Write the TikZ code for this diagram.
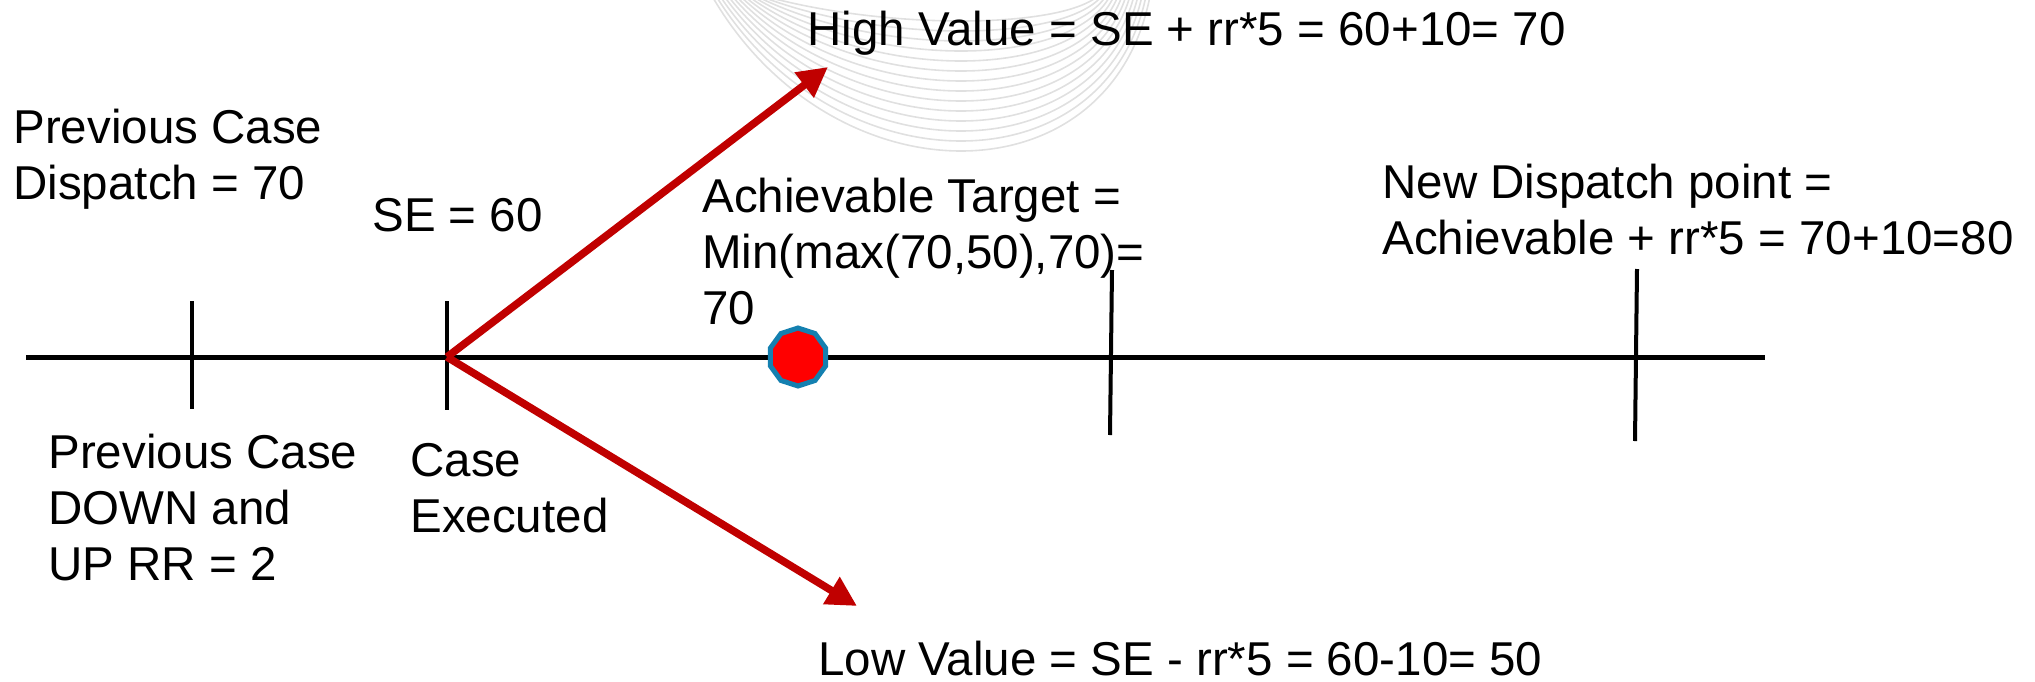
\documentclass[tikz,border=0pt]{standalone}
\usepackage{fontspec}
\setmainfont{Liberation Sans}
\usetikzlibrary{arrows.meta,shapes.geometric}
\definecolor{arrowred}{RGB}{192,0,0}
\definecolor{dotblue}{RGB}{20,128,176}
\definecolor{swoosh}{RGB}{224,224,224}
\begin{document}
\begin{tikzpicture}[x=0.5pt,y=-0.5pt,
  lbl/.style={anchor=base west, inner sep=0pt, align=left, font=\fontsize{23.75}{28}\selectfont},
  axisline/.style={line width=2.5pt, black},
  tickmark/.style={line width=2pt, black},
  redarrow/.style={line width=3.8pt, arrowred, -{Triangle[length=15pt,width=15pt]}},
  swooshline/.style={swoosh, line width=0.8pt}]
\useasboundingbox (0,0) rectangle (2035,681);
% faint background swoosh
\begin{scope}
\clip (0,0) rectangle (2035,681);
\foreach \i in {0,...,13} {
  \pgfmathsetmacro\xl{712+\i*4}
  \pgfmathsetmacro\xr{1150-\i*4}
  \pgfmathsetmacro\cc{(152-\i*10)*4/3}
  \draw[swooshline] (\xl,-4) .. controls (\xl+120,\cc) and (\xr-40,\cc) .. (\xr,-4);
}
\end{scope}
% coordinates
\coordinate (lstart) at (26,357);
\coordinate (lend) at (1765,357);
\coordinate (t1a) at (192,301); \coordinate (t1b) at (192,409);
\coordinate (t2a) at (447,301); \coordinate (t2b) at (447,410);
\coordinate (t3a) at (1112,270); \coordinate (t3b) at (1110,435);
\coordinate (t4a) at (1637,269); \coordinate (t4b) at (1635,441);
\coordinate (se) at (447,357);
\coordinate (hitip) at (828,67);
\coordinate (lotip) at (857,606);
% axis and ticks
\draw[axisline] (lstart) -- (lend);
\draw[tickmark] (t1a) -- (t1b);
\draw[tickmark] (t2a) -- (t2b);
\draw[tickmark] (t3a) -- (t3b);
\draw[tickmark] (t4a) -- (t4b);
% arrows
\draw[redarrow] (se) -- (hitip);
\draw[redarrow] (se) -- (lotip);
% dot
\node[regular polygon, regular polygon sides=10, shape border rotate=18,
      minimum size=29pt, inner sep=0pt, fill=red, draw=dotblue, line width=2.5pt] (dot) at (798,357) {};
% labels (anchor = baseline of the last line)
\node[lbl] (prevdisp) at (13,199) {Previous Case\\Dispatch = 70};
\node[lbl] (se60) at (372,231) {SE = 60};
\node[lbl] (high) at (807,45) {High Value = SE + rr*5 = 60+10= 70};
\node[lbl] (achiev) at (702,324) {Achievable Target =\\Min(max(70,50),70)=\\70};
\node[lbl] (newdisp) at (1382,254) {New Dispatch point =\\Achievable + rr*5 = 70+10=80};
\node[lbl] (prevdown) at (48,580) {Previous Case\\DOWN and\\UP RR = 2};
\node[lbl] (caseexec) at (410,532) {Case\\Executed};
\node[lbl] (low) at (818,675) {Low Value = SE - rr*5 = 60-10= 50};
\end{tikzpicture}
\end{document}
